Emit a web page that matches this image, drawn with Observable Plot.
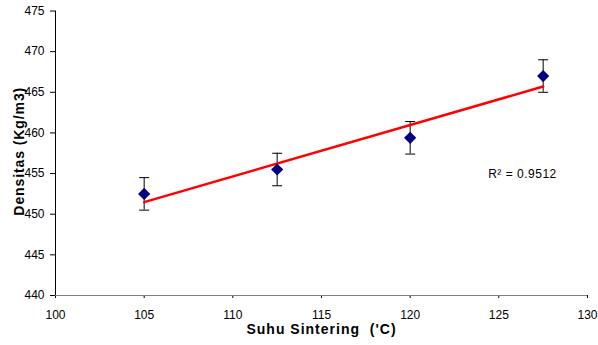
<!DOCTYPE html>
<html>
<head>
<meta charset="utf-8">
<script src="https://cdn.jsdelivr.net/npm/d3@7"></script>
<script src="https://cdn.jsdelivr.net/npm/@observablehq/plot@0.6"></script>
<style>
  html, body { margin: 0; padding: 0; background: #fff; }
  svg { font-family: "Liberation Sans", Arial, sans-serif; }
</style>
</head>
<body>
<div id="chart"></div>
<script>
// Sintering temperature (°C) and measured density (kg/m3) with ± error
const temperature = [105, 112.5, 120, 127.5];
const density = [452.5, 455.5, 459.4, 467.0];
const densityError = [2, 2, 2, 2];
const xTicks = [100, 105, 110, 115, 120, 125, 130];
const yTicks = [440, 445, 450, 455, 460, 465, 470, 475];
const r2Label = "R\u00B2 = 0.9512";
const r2Position = {x: 124.4, y: 454.9};
const xTitle = "Suhu Sintering  ('C)";
const yTitle = "Densitas (Kg/m3)";

const rows = temperature.map((t, i) => ({
  t, d: density[i], lo: density[i] - densityError[i], hi: density[i] + densityError[i]
}));

// horizontal cap for the error bars
const cap = {draw(ctx) { ctx.moveTo(-5, 0); ctx.lineTo(5, 0); }};

const chart = Plot.plot({
  width: 598,
  height: 345,
  marginLeft: 55,
  marginRight: 11,
  marginTop: 10.5,
  marginBottom: 50,
  style: {fontFamily: "Liberation Sans, Arial, sans-serif", fontSize: "12px", color: "#000", background: "#fff"},
  x: {domain: [100, 130], ticks: xTicks, label: null},
  y: {domain: [440, 475], ticks: yTicks, label: null},
  marks: [
    Plot.axisX({ticks: xTicks, tickSize: 3, tickPadding: 12, fontSize: 12, stroke: "#000"}),
    Plot.axisY({ticks: yTicks, tickSize: 5, tickPadding: 6, fontSize: 12, stroke: "#000"}),
    Plot.ruleY([440], {stroke: "#808080", strokeWidth: 1}),
    Plot.ruleX([100], {stroke: "#000", strokeWidth: 1}),
    Plot.ruleX(rows, {x: "t", y1: "lo", y2: "hi", stroke: "#000", strokeWidth: 1}),
    Plot.dot(rows, {x: "t", y: "lo", symbol: cap, stroke: "#000", strokeWidth: 1, r: 3}),
    Plot.dot(rows, {x: "t", y: "hi", symbol: cap, stroke: "#000", strokeWidth: 1, r: 3}),
    Plot.linearRegressionY(rows, {x: "t", y: "d", stroke: "#ff0000", strokeWidth: 2.5, ci: 0}),
    Plot.dot(rows, {x: "t", y: "d", symbol: "diamond2", fill: "#000080", stroke: "none", r: 5.5}),
    Plot.text([r2Position], {x: "x", y: "y", text: () => r2Label, textAnchor: "start", fontSize: 12, fill: "#000"}),
    Plot.text([xTitle], {frameAnchor: "bottom", textAnchor: "middle", dy: 38, text: d => d, fontSize: 14, fontWeight: "bold", fill: "#000"}),
    Plot.text([yTitle], {frameAnchor: "left", textAnchor: "middle", dx: -36, dy: -2, rotate: -90, text: d => d, fontSize: 14, fontWeight: "bold", fill: "#000"})
  ]
});

// spacing of the titles and the R² note; keep the double space in the x title
const spacing = {[xTitle]: "1px", [yTitle]: "0.9px", [r2Label]: "0.5px"};
chart.querySelectorAll("text").forEach(t => {
  const s = spacing[t.textContent];
  if (s) {
    t.style.letterSpacing = s;
    t.style.whiteSpace = "pre";
  }
});

document.getElementById("chart").appendChild(chart);
</script>
</body>
</html>
